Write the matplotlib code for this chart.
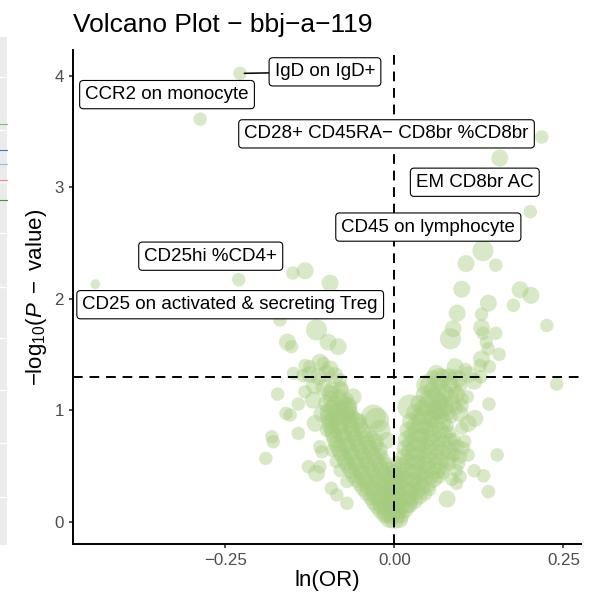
import numpy as np
import matplotlib
matplotlib.use("Agg")
import matplotlib.pyplot as plt
from matplotlib.patches import Rectangle
from matplotlib.lines import Line2D

plt.rcParams['font.family'] = ['Liberation Sans', 'DejaVu Sans']
plt.rcParams['mathtext.fontset'] = 'custom'
plt.rcParams['mathtext.rm'] = 'Liberation Sans'
plt.rcParams['mathtext.it'] = 'Liberation Sans:italic'

# (ln(OR), -log10(P), weight)
named = [(-0.228, 4.02, 2), (-0.287, 3.61, 2), (0.218, 3.45, 2), (0.156, 3.26, 3),
         (0.201, 2.78, 2), (-0.230, 2.17, 2), (-0.442, 2.13, 1)]
names = ['IgD on IgD+', 'CCR2 on monocyte', 'CD28+ CD45RA\u2212 CD8br %CD8br',
         'EM CD8br AC', 'CD45 on lymphocyte', 'CD25hi %CD4+',
         'CD25 on activated & secreting Treg']

upper_left = [(-0.150, 2.23, 2), (-0.132, 2.25, 3), (-0.095, 2.14, 3), (-0.169, 1.81, 2),
              (-0.115, 1.72, 4), (-0.098, 1.61, 3), (-0.083, 1.57, 3), (-0.158, 1.61, 3),
              (-0.152, 1.57, 2), (-0.132, 1.40, 2), (-0.110, 1.43, 3), (-0.095, 1.37, 3),
              (-0.149, 1.33, 2), (-0.125, 1.39, 2), (-0.105, 1.42, 2), (-0.135, 1.31, 2),
              (-0.125, 1.32, 3), (-0.112, 1.30, 3), (-0.100, 1.33, 3), (-0.088, 1.31, 3),
              (-0.080, 1.27, 2), (-0.118, 1.22, 3), (-0.104, 1.20, 3), (-0.092, 1.18, 3),
              (-0.078, 1.20, 2)]

lower_left = [(-0.1725, 1.144, 2), (-0.160, 0.971, 2), (-0.154, 0.956, 2), (-0.142, 1.055, 2),
              (-0.132, 1.165, 2), (-0.181, 0.762, 2), (-0.179, 0.717, 2), (-0.190, 0.568, 2),
              (-0.142, 0.792, 2), (-0.117, 0.882, 3), (-0.110, 0.672, 2), (-0.107, 0.627, 2),
              (-0.127, 0.493, 2), (-0.115, 0.434, 3), (-0.110, 0.493, 2), (-0.093, 0.30, 2),
              (-0.085, 0.24, 2), (-0.070, 0.165, 2), (-0.120, 1.09, 3), (-0.107, 0.97, 3),
              (-0.095, 1.15, 3), (-0.080, 1.18, 3), (-0.070, 1.03, 4), (-0.066, 0.97, 3),
              (-0.061, 1.12, 3), (-0.091, 0.91, 3), (-0.100, 0.82, 2), (-0.051, 0.91, 2),
              (-0.031, 0.94, 5), (-0.021, 0.82, 4), (-0.011, 0.73, 3), (-0.026, 0.91, 5),
              (-0.080, 0.46, 2), (-0.086, 0.54, 2), (-0.092, 0.64, 2), (-0.070, 0.36, 2)]

core_left = [(-0.008, 0.02, 3), (0.000, 0.03, 4), (0.008, 0.02, 3),
             (-0.020, 0.10, 3), (-0.010, 0.09, 4), (-0.002, 0.11, 3),
             (-0.030, 0.18, 3), (-0.018, 0.17, 4), (-0.007, 0.19, 3),
             (-0.040, 0.26, 3), (-0.027, 0.25, 4), (-0.014, 0.27, 3), (-0.004, 0.24, 3),
             (-0.050, 0.34, 3), (-0.036, 0.33, 4), (-0.022, 0.35, 3), (-0.008, 0.33, 3),
             (-0.060, 0.42, 3), (-0.045, 0.41, 4), (-0.030, 0.43, 3), (-0.015, 0.42, 3), (-0.005, 0.40, 2),
             (-0.068, 0.50, 3), (-0.053, 0.49, 4), (-0.038, 0.51, 3), (-0.022, 0.50, 3), (-0.010, 0.48, 2),
             (-0.075, 0.58, 3), (-0.060, 0.57, 4), (-0.045, 0.59, 3), (-0.030, 0.58, 3), (-0.016, 0.56, 2),
             (-0.082, 0.66, 3), (-0.067, 0.65, 4), (-0.052, 0.67, 3), (-0.037, 0.66, 3), (-0.022, 0.64, 3),
             (-0.088, 0.74, 3), (-0.073, 0.73, 4), (-0.058, 0.75, 3), (-0.043, 0.74, 3), (-0.028, 0.72, 3),
             (-0.092, 0.82, 3), (-0.078, 0.81, 4), (-0.063, 0.83, 3), (-0.048, 0.82, 3),
             (-0.095, 0.90, 3), (-0.082, 0.89, 4), (-0.068, 0.91, 3), (-0.055, 0.90, 3),
             (-0.098, 0.98, 3), (-0.086, 0.97, 3), (-0.072, 0.99, 4),
             (-0.100, 1.06, 3), (-0.088, 1.05, 3), (-0.076, 1.07, 3)]

core_left_b = [(-0.014, 0.06, 3), (-0.004, 0.05, 3), (0.004, 0.06, 3),
               (-0.025, 0.14, 3), (-0.014, 0.13, 3), (-0.004, 0.15, 3),
               (-0.034, 0.22, 3), (-0.022, 0.21, 3), (-0.010, 0.23, 3),
               (-0.045, 0.30, 3), (-0.031, 0.29, 3), (-0.017, 0.31, 3), (-0.006, 0.29, 3),
               (-0.055, 0.38, 3), (-0.041, 0.37, 3), (-0.027, 0.39, 3), (-0.012, 0.37, 3),
               (-0.064, 0.46, 3), (-0.049, 0.45, 3), (-0.034, 0.47, 3), (-0.019, 0.46, 3), (-0.007, 0.44, 2),
               (-0.072, 0.54, 3), (-0.057, 0.53, 3), (-0.042, 0.55, 3), (-0.027, 0.54, 3), (-0.013, 0.52, 2),
               (-0.079, 0.62, 3), (-0.064, 0.61, 3), (-0.049, 0.63, 3), (-0.034, 0.62, 3), (-0.020, 0.60, 2),
               (-0.085, 0.70, 3), (-0.070, 0.69, 3), (-0.055, 0.71, 3), (-0.040, 0.70, 3), (-0.026, 0.68, 2),
               (-0.090, 0.78, 3), (-0.076, 0.77, 3), (-0.061, 0.79, 3), (-0.046, 0.78, 3), (-0.033, 0.76, 2),
               (-0.094, 0.86, 3), (-0.080, 0.85, 3), (-0.066, 0.87, 3), (-0.052, 0.86, 3),
               (-0.097, 0.94, 3), (-0.084, 0.93, 3), (-0.070, 0.95, 3), (-0.060, 0.94, 2),
               (-0.092, 1.02, 3), (-0.080, 1.01, 3), (-0.068, 1.03, 3),
               (-0.094, 1.10, 3), (-0.082, 1.11, 3), (-0.070, 1.10, 2)]

core_mid = [(0.000, 0.16, 3), (0.002, 0.24, 3), (-0.002, 0.32, 3), (0.003, 0.40, 3),
            (-0.001, 0.47, 3), (0.004, 0.53, 2), (-0.004, 0.20, 3), (0.004, 0.36, 3),
            (0.000, 0.44, 3)]

core_right = [(0.006, 0.10, 3), (0.016, 0.11, 3),
              (0.006, 0.18, 3), (0.018, 0.17, 4), (0.030, 0.19, 3),
              (0.006, 0.26, 3), (0.020, 0.25, 4), (0.034, 0.27, 3), (0.046, 0.25, 2),
              (0.008, 0.34, 3), (0.022, 0.33, 4), (0.036, 0.35, 3), (0.050, 0.34, 3),
              (0.010, 0.42, 3), (0.025, 0.41, 4), (0.040, 0.43, 3), (0.055, 0.42, 3), (0.066, 0.40, 2),
              (0.012, 0.50, 3), (0.028, 0.49, 4), (0.044, 0.51, 3), (0.060, 0.50, 3), (0.074, 0.48, 2),
              (0.014, 0.58, 3), (0.030, 0.57, 4), (0.046, 0.59, 3), (0.062, 0.58, 3), (0.078, 0.56, 3), (0.090, 0.60, 2),
              (0.016, 0.66, 3), (0.032, 0.65, 4), (0.048, 0.67, 3), (0.064, 0.66, 3), (0.080, 0.64, 3), (0.094, 0.68, 2),
              (0.018, 0.74, 3), (0.034, 0.73, 4), (0.050, 0.75, 3), (0.066, 0.74, 3), (0.082, 0.72, 3),
              (0.020, 0.82, 3), (0.036, 0.81, 4), (0.052, 0.83, 3), (0.068, 0.82, 3), (0.082, 0.80, 2),
              (0.024, 0.90, 3), (0.040, 0.89, 4), (0.056, 0.91, 3), (0.072, 0.90, 3),
              (0.030, 0.98, 3), (0.046, 0.97, 4), (0.062, 0.99, 3), (0.078, 0.98, 3),
              (0.036, 1.06, 3), (0.052, 1.05, 4), (0.068, 1.07, 3), (0.086, 1.06, 3), (0.100, 1.04, 2),
              (0.044, 1.14, 3), (0.060, 1.13, 3), (0.076, 1.15, 3), (0.092, 1.14, 3), (0.108, 1.12, 2),
              (0.050, 1.22, 3), (0.066, 1.21, 3), (0.082, 1.23, 3), (0.098, 1.22, 2),
              (0.056, 1.30, 2), (0.072, 1.29, 3), (0.090, 1.31, 2)]

core_right_b = [(0.010, 0.06, 3),
                (0.010, 0.14, 3), (0.022, 0.15, 3),
                (0.012, 0.22, 3), (0.025, 0.21, 3), (0.037, 0.23, 3),
                (0.013, 0.30, 3), (0.027, 0.29, 3), (0.041, 0.31, 3), (0.052, 0.29, 2),
                (0.015, 0.38, 3), (0.030, 0.37, 3), (0.045, 0.39, 3), (0.058, 0.38, 3),
                (0.018, 0.46, 3), (0.034, 0.45, 3), (0.050, 0.47, 3), (0.064, 0.46, 3), (0.072, 0.44, 2),
                (0.020, 0.54, 3), (0.036, 0.53, 3), (0.052, 0.55, 3), (0.068, 0.54, 3), (0.082, 0.52, 2),
                (0.022, 0.62, 3), (0.038, 0.61, 3), (0.054, 0.63, 3), (0.070, 0.62, 3), (0.086, 0.60, 2),
                (0.024, 0.70, 3), (0.040, 0.69, 3), (0.056, 0.71, 3), (0.072, 0.70, 3), (0.088, 0.68, 2),
                (0.026, 0.78, 3), (0.042, 0.77, 3), (0.058, 0.79, 3), (0.074, 0.78, 3),
                (0.030, 0.86, 3), (0.046, 0.85, 3), (0.062, 0.87, 3), (0.078, 0.86, 2),
                (0.036, 0.94, 3), (0.052, 0.93, 3), (0.068, 0.95, 3), (0.084, 0.94, 2),
                (0.042, 1.02, 3), (0.058, 1.01, 3), (0.076, 1.03, 3), (0.092, 1.02, 2),
                (0.050, 1.10, 3), (0.066, 1.09, 3), (0.084, 1.11, 3), (0.100, 1.10, 2),
                (0.056, 1.18, 3), (0.072, 1.17, 3), (0.090, 1.19, 2)]

lower_right = [(0.140, 1.055, 2), (0.152, 0.598, 2), (0.118, 0.457, 2), (0.132, 0.412, 2),
               (0.139, 0.269, 2), (0.078, 0.203, 3), (0.092, 0.344, 2), (0.097, 0.403, 2),
               (0.109, 0.598, 2), (0.119, 0.926, 3), (0.097, 0.97, 3), (0.109, 0.88, 3),
               (0.023, 1.03, 5), (0.070, 1.016, 4), (0.088, 0.74, 2), (0.102, 0.66, 2),
               (0.095, 0.52, 2), (0.063, 1.00, 4), (0.098, 0.58, 2), (0.104, 0.72, 2),
               (0.100, 0.84, 2), (0.092, 0.46, 2), (0.085, 0.38, 2)]

upper_right = [(0.131, 2.43, 4), (0.106, 2.315, 3), (0.150, 2.30, 2), (0.0997, 2.085, 3),
               (0.186, 2.08, 3), (0.202, 2.03, 3), (0.176, 1.94, 2), (0.139, 1.96, 3),
               (0.093, 1.87, 3), (0.129, 1.86, 2), (0.2255, 1.76, 2), (0.087, 1.73, 3),
               (0.129, 1.74, 3), (0.131, 1.69, 2), (0.150, 1.69, 2), (0.083, 1.64, 4),
               (0.136, 1.61, 2), (0.139, 1.55, 2), (0.155, 1.50, 2), (0.129, 1.46, 3),
               (0.090, 1.39, 3), (0.105, 1.365, 2), (0.1405, 1.39, 2), (0.127, 1.40, 2),
               (0.068, 1.285, 4), (0.048, 1.225, 4), (0.240, 1.234, 2), (0.062, 1.33, 3),
               (0.080, 1.30, 3), (0.095, 1.28, 3), (0.110, 1.32, 3), (0.118, 1.26, 3),
               (0.128, 1.30, 2)]

size_of = {1: 50, 2: 95, 3: 150, 4: 230, 5: 320}

pts = np.array(lower_left + lower_right + core_left + core_left_b + core_mid + core_right
               + core_right_b + upper_left + upper_right + named)
x, y, w = pts[:, 0], pts[:, 1], pts[:, 2].astype(int)
s = np.array([size_of[k] for k in w])

fig = plt.figure(figsize=(5.95, 6.0), dpi=100)
ax = fig.add_axes([73 / 595, 1 - 544 / 600, (581 - 73) / 595, (544 - 50) / 600])

ax.scatter(x, y, s=s, c='#a5cc7e', alpha=0.42, edgecolors='none', zorder=2)

dash = dict(color='black', lw=1.4, dashes=(5, 3.5), zorder=3)
ax.axhline(-np.log10(0.05), **dash)
ax.axvline(0, **dash)

label_xy = [(-0.1025, 4.034), (-0.336, 3.83), (-0.0115, 3.478), (0.119, 3.044),
            (0.0503, 2.642), (-0.2714, 2.381), (-0.2426, 1.946)]
box = dict(boxstyle='round,pad=0.3,rounding_size=0.2', fc='white', ec='black', lw=0.8)
for i, (nm, pos) in enumerate(zip(names, label_xy)):
    px, py = named[i][0], named[i][1]
    arrow = None
    if i == 0:
        arrow = dict(arrowstyle='-', color='black', lw=1.1, shrinkA=0, shrinkB=3)
    ax.annotate(nm, xy=(px, py), xytext=pos, ha='center', va='center', fontsize=13.5,
                bbox=box, arrowprops=arrow, zorder=5)

ax.set_xlim(-0.475, 0.276)
ax.set_ylim(-0.2, 4.23)
ax.set_xticks([-0.25, 0.0, 0.25])
ax.set_xticklabels(['\u22120.25', '0.00', '0.25'])
ax.set_yticks([0, 1, 2, 3, 4])

for side in ['top', 'right']:
    ax.spines[side].set_visible(False)
for side in ['left', 'bottom']:
    ax.spines[side].set_linewidth(1.4)
ax.tick_params(length=3, width=1.2, color='#333333', labelcolor='#4d4d4d',
               labelsize=12.2, pad=3.5)

ax.set_xlabel('ln(OR)', fontsize=16, labelpad=1.5)
ax.set_ylabel(r'$-\mathrm{log}_{10}(P\ -\ \mathrm{value})$', fontsize=16, labelpad=4)
ax.set_title('Volcano Plot \u2212 bbj\u2212a\u2212119', loc='left', fontsize=19, pad=13)

# strip of a neighbouring panel visible at the left edge of the screenshot
fig.patches.append(Rectangle((0, 1 - 545 / 600), 7 / 595, (545 - 37) / 600,
                             transform=fig.transFigure, fc='#ebebeb', ec='none'))
for yy in [77, 130, 182, 233, 287, 338, 390, 443, 497]:
    fig.lines.append(Line2D([0, 7 / 595], [1 - yy / 600] * 2, transform=fig.transFigure,
                            color='white', lw=1))
for yy, col in [(124, '#7cc45a'), (150, '#2c7fc9'), (164, '#8fc3ea'), (180, '#f08a8a'), (200, '#3a9a3a')]:
    fig.lines.append(Line2D([0, 7 / 595], [1 - yy / 600] * 2, transform=fig.transFigure,
                            color=col, lw=0.8))

fig.savefig('out.png', dpi=100)
